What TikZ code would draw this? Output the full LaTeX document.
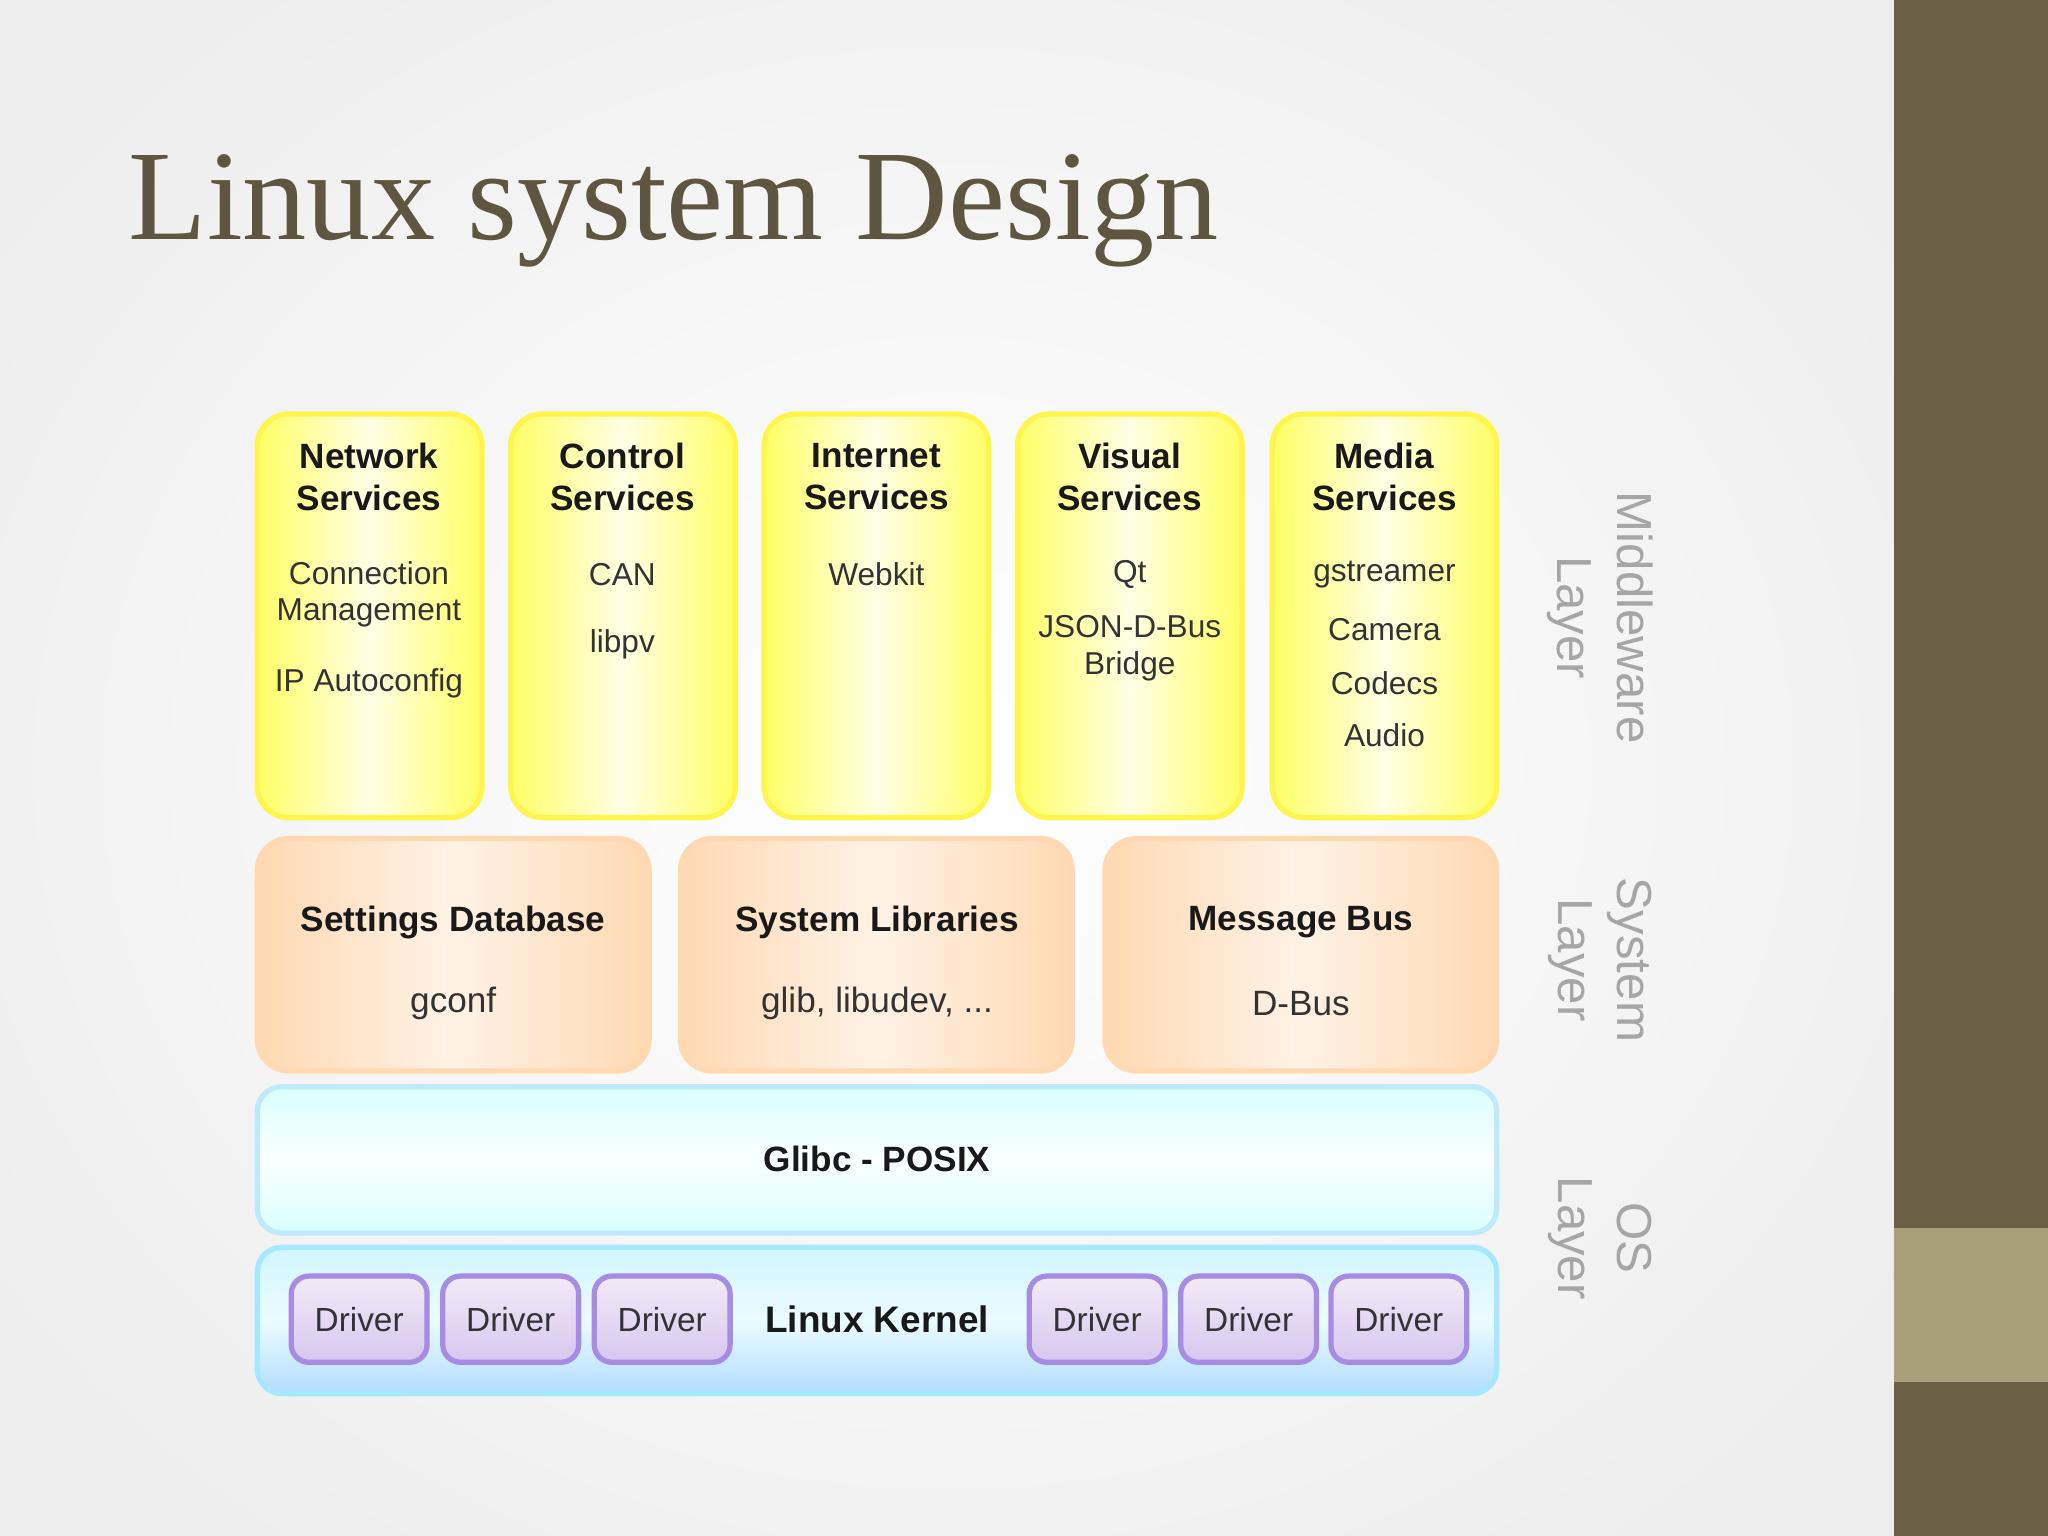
\documentclass[tikz,border=0pt]{standalone}
\usepackage{fontspec}
\setmainfont{Liberation Sans}
\newfontfamily\titlefont{Liberation Serif}
\begin{document}
\begin{tikzpicture}[x=0.013061cm,y=-0.013061cm,
  ybox/.style={rounded corners=9pt,draw=yellow!70!white,line width=1.5pt,shading=axis,left color=yellow!60,right color=yellow!60,middle color=yellow!10,shading angle=90},
  obox/.style={rounded corners=9pt,draw=orange!30,line width=1.5pt,shading=axis,left color=orange!30,right color=orange!30,middle color=orange!10,shading angle=90},
  cbox/.style={rounded corners=7pt,draw=cyan!25,line width=1.5pt,top color=cyan!15,bottom color=cyan!15,middle color=cyan!2},
  bbox/.style={rounded corners=7pt,draw=blue!25!cyan!35,line width=1.5pt,top color=blue!20!cyan!18,bottom color=blue!45!cyan!30,middle color=blue!15!cyan!8},
  dbox/.style={rounded corners=5pt,draw=blue!55!violet!45,line width=1.5pt,top color=blue!15!violet!8,bottom color=blue!45!violet!22},
  tt/.style={font=\fontsize{10}{12}\selectfont\bfseries,align=center,text=black!90},
  it/.style={font=\fontsize{9}{10.5}\selectfont,align=center,text=black!80},
  side/.style={font=\fontsize{14}{17}\selectfont,align=center,text=black!35,rotate=-90}]
\useasboundingbox (0,0) rectangle (1568,1176);
\fill[inner color=white,outer color=black!7] (-200,-200) rectangle (1650,1376);
\fill[fill={rgb,255:red,107;green,95;blue,70}] (1450,0) rectangle (1568,1176);
\fill[fill={rgb,255:red,168;green,160;blue,120}] (1450,940) rectangle (1568,1058);
\node[anchor=base west,inner sep=0pt,text={rgb,255:red,94;green,86;blue,64},font=\titlefont\fontsize{36.5}{42}\selectfont] (title) at (98,183) {Linux system Design};
\foreach \x in {197,391,585,779,974}{ \path[ybox] (\x,317) rectangle ++(172,309); }
\node[tt] (na) at (282.5,365) {Network\\Services};
\node[tt] (nb) at (476.5,365) {Control\\Services};
\node[tt] (nc) at (671,365) {Internet\\Services};
\node[tt] (nd) at (865,365) {Visual\\Services};
\node[tt] (ne) at (1060,365) {Media\\Services};
\node[it] (ia) at (282.5,455) {Connection\\Management};
\node[it] (ib) at (282.5,523) {IP Autoconfig};
\node[it] (ic) at (476.5,440) {CAN};
\node[it] (id) at (476.5,493) {libpv};
\node[it] (ie) at (671,440) {Webkit};
\node[it] (if) at (865,440) {Qt};
\node[it] (ig) at (865,496) {JSON-D-Bus\\Bridge};
\node[it] (ih) at (1060,440) {gstreamer};
\node[it] (ii) at (1060,482) {Camera};
\node[it] (ij) at (1060,523) {Codecs};
\node[it] (ik) at (1060,563) {Audio};
\foreach \x in {197,521,846}{ \path[obox] (\x,642) rectangle ++(300,178); }
\node[tt] (sa) at (347,706) {Settings Database};
\node[it,font=\fontsize{10}{12}\selectfont] (sb) at (347,768) {gconf};
\node[tt] (sc) at (671.5,706) {System Libraries};
\node[it,font=\fontsize{10}{12}\selectfont] (sd) at (671.5,768) {glib, libudev, ...};
\node[tt] (se) at (996,706) {Message Bus};
\node[it,font=\fontsize{10}{12}\selectfont] (sf) at (996,768) {D-Bus};
\path[cbox] (197,832) rectangle (1146,944);
\node[tt] (gl) at (671.5,887) {Glibc - POSIX};
\path[bbox] (197,955) rectangle (1146,1067);
\node[tt,font=\fontsize{10.5}{13}\selectfont\bfseries] (lk) at (671.5,1010) {Linux Kernel};
\foreach \x in {223,339,455,788,904,1019}{
  \path[dbox] (\x,977) rectangle ++(104,66);
  \node[it,font=\fontsize{9.5}{12}\selectfont] at (\x+52,1010) {Driver};
}
\node[side] (l1) at (1225,473) {Middleware\\Layer};
\node[side] (l2) at (1225,735) {System\\Layer};
\node[side] (l3) at (1225,948) {OS\\Layer};
\end{tikzpicture}
\end{document}
